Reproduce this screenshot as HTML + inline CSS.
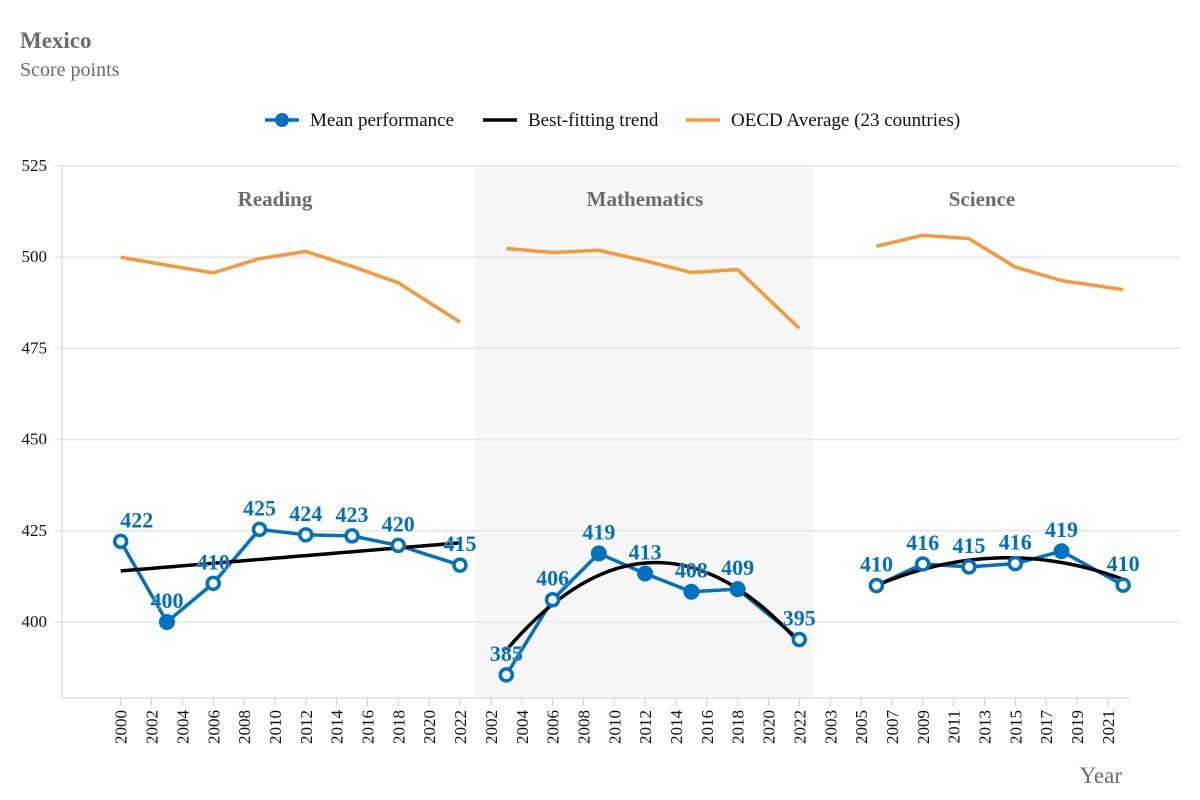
<!DOCTYPE html>
<html><head><meta charset="utf-8"><style>
body{margin:0;background:#fff;}
svg{display:block;font-family:"Liberation Serif",serif;}
</style></head><body>
<svg id="s" width="1200" height="800" xmlns="http://www.w3.org/2000/svg">
<text x="20" y="48" font-size="23" font-weight="bold" fill="#6b6b6b">Mexico</text>
<text x="20" y="76" font-size="20" fill="#6b6b6b">Score points</text>
<line x1="265" y1="120" x2="299" y2="120" stroke="#0070c0" stroke-width="3.5"/>
<circle cx="282" cy="120" r="7" fill="#0070c0"/>
<text x="310" y="126" font-size="19" fill="#111">Mean performance</text>
<line x1="483" y1="120" x2="517" y2="120" stroke="#000" stroke-width="3.5"/>
<text x="528" y="126" font-size="19" fill="#111">Best-fitting trend</text>
<line x1="686" y1="120" x2="720" y2="120" stroke="#f5993a" stroke-width="3.5"/>
<text x="731" y="126" font-size="19" fill="#111">OECD Average (23 countries)</text>
<rect x="475" y="166" width="338" height="531" fill="#f7f7f7"/>
<g id="g"></g>
</svg>
<script>
const g=document.getElementById('g');let h='';
const Y=v=>622-(v-400)*3.648;
[525,500,475,450,425,400].forEach(v=>{h+=`<line x1="55" x2="1180" y1="${Y(v)}" y2="${Y(v)}" stroke="#e6e6e6" stroke-width="1.5"/><text x="47" y="${Y(v)+5}" font-size="17" text-anchor="end" fill="#111">${v}</text>`;});
h+=`<line x1="62" x2="62" y1="166" y2="697" stroke="#e0e0e0" stroke-width="1.5"/><line x1="62" x2="1130" y1="698" y2="698" stroke="#e0e0e0" stroke-width="1.5"/>`;
const labs=[2000,2002,2004,2006,2008,2010,2012,2014,2016,2018,2020,2022,2002,2004,2006,2008,2010,2012,2014,2016,2018,2020,2022,2003,2005,2007,2009,2011,2013,2015,2017,2019,2021];
labs.forEach((l,i)=>{const x=120.7+30.85*i;h+=`<line x1="${x}" x2="${x}" y1="698" y2="706" stroke="#ccc"/><text transform="translate(${x+6},${710}) rotate(-90)" font-size="17" text-anchor="end" fill="#111">${l}</text>`;});
h+=`<text x="1122" y="783" font-size="23" fill="#6b6b6b" text-anchor="end">Year</text>`;
const panels=[
 {x0:120.7,b:2000,t:'Reading',tx:275,
  d:[[2000,422,0],[2003,400,1],[2006,410,0],[2009,425,0],[2012,424,0],[2015,423,0],[2018,420,0],[2022,415,0]],
  dv:[422.1,400,410.6,425.4,423.9,423.6,421,415.6],
  o:[[2000,500],[2003,497.8],[2006,495.7],[2009,499.6],[2012,501.6],[2015,497.5],[2018,493],[2022,482.2]],
  tr:t=>414+(t-2000)*0.35},
 {x0:490.9,b:2002,t:'Mathematics',tx:645,
  d:[[2003,385,0],[2006,406,0],[2009,419,1],[2012,413,1],[2015,408,1],[2018,409,1],[2022,395,0]],
  dv:[385.5,406.1,418.8,413.3,408.3,409,395.2],
  o:[[2003,502.4],[2006,501.3],[2009,501.9],[2012,499],[2015,495.8],[2018,496.6],[2022,480.5]],
  tr:t=>416.3-0.255*(t-2012.7)**2},
 {x0:830.2,b:2003,t:'Science',tx:982,
  d:[[2006,410,0],[2009,416,0],[2012,415,0],[2015,416,0],[2018,419,1],[2022,410,0]],
  dv:[410,415.9,415.1,416,419.4,410.1],
  o:[[2006,503],[2009,506],[2012,505.1],[2015,497.3],[2018,493.6],[2022,491.1]],
  tr:t=>417.6-0.105*(t-2014.5)**2}];
panels.forEach(p=>{
 const X=t=>p.x0+(t-p.b)*15.42;
 h+=`<text x="${p.tx}" y="206" font-size="21" font-weight="bold" fill="#6b6b6b" text-anchor="middle">${p.t}</text>`;
 h+=`<polyline fill="none" stroke="#f5993a" stroke-width="3.5" points="${p.o.map(a=>X(a[0])+','+Y(a[1])).join(' ')}"/>`;
 h+=`<polyline fill="none" stroke="#0070c0" stroke-width="3.5" points="${p.d.map((a,i)=>X(a[0])+','+Y(p.dv[i])).join(' ')}"/>`;
 const t0=p.d[0][0],t1=p.d[p.d.length-1][0];let pts=[];
 for(let k=0;k<=40;k++){const t=t0+(t1-t0)*k/40;pts.push(X(t)+','+Y(p.tr(t)));}
 h+=`<polyline fill="none" stroke="#000" stroke-width="3.5" points="${pts.join(' ')}"/>`;
 p.d.forEach((a,i)=>{const x=X(a[0]),y=Y(p.dv[i]);
  h+=a[2]?`<circle cx="${x}" cy="${y}" r="8" fill="#0070c0"/>`:`<circle cx="${x}" cy="${y}" r="6" fill="#fff" stroke="#0070c0" stroke-width="3.5"/>`;
  h+=`<text x="${x+(i==0&&p.t=='Reading'?16:0)}" y="${y-14}" font-size="22" font-weight="bold" fill="#0070c0" text-anchor="middle" stroke="#fff" stroke-width="0.5" paint-order="stroke">${a[1]}</text>`;});
});
g.innerHTML=h;
</script>
</body></html>
